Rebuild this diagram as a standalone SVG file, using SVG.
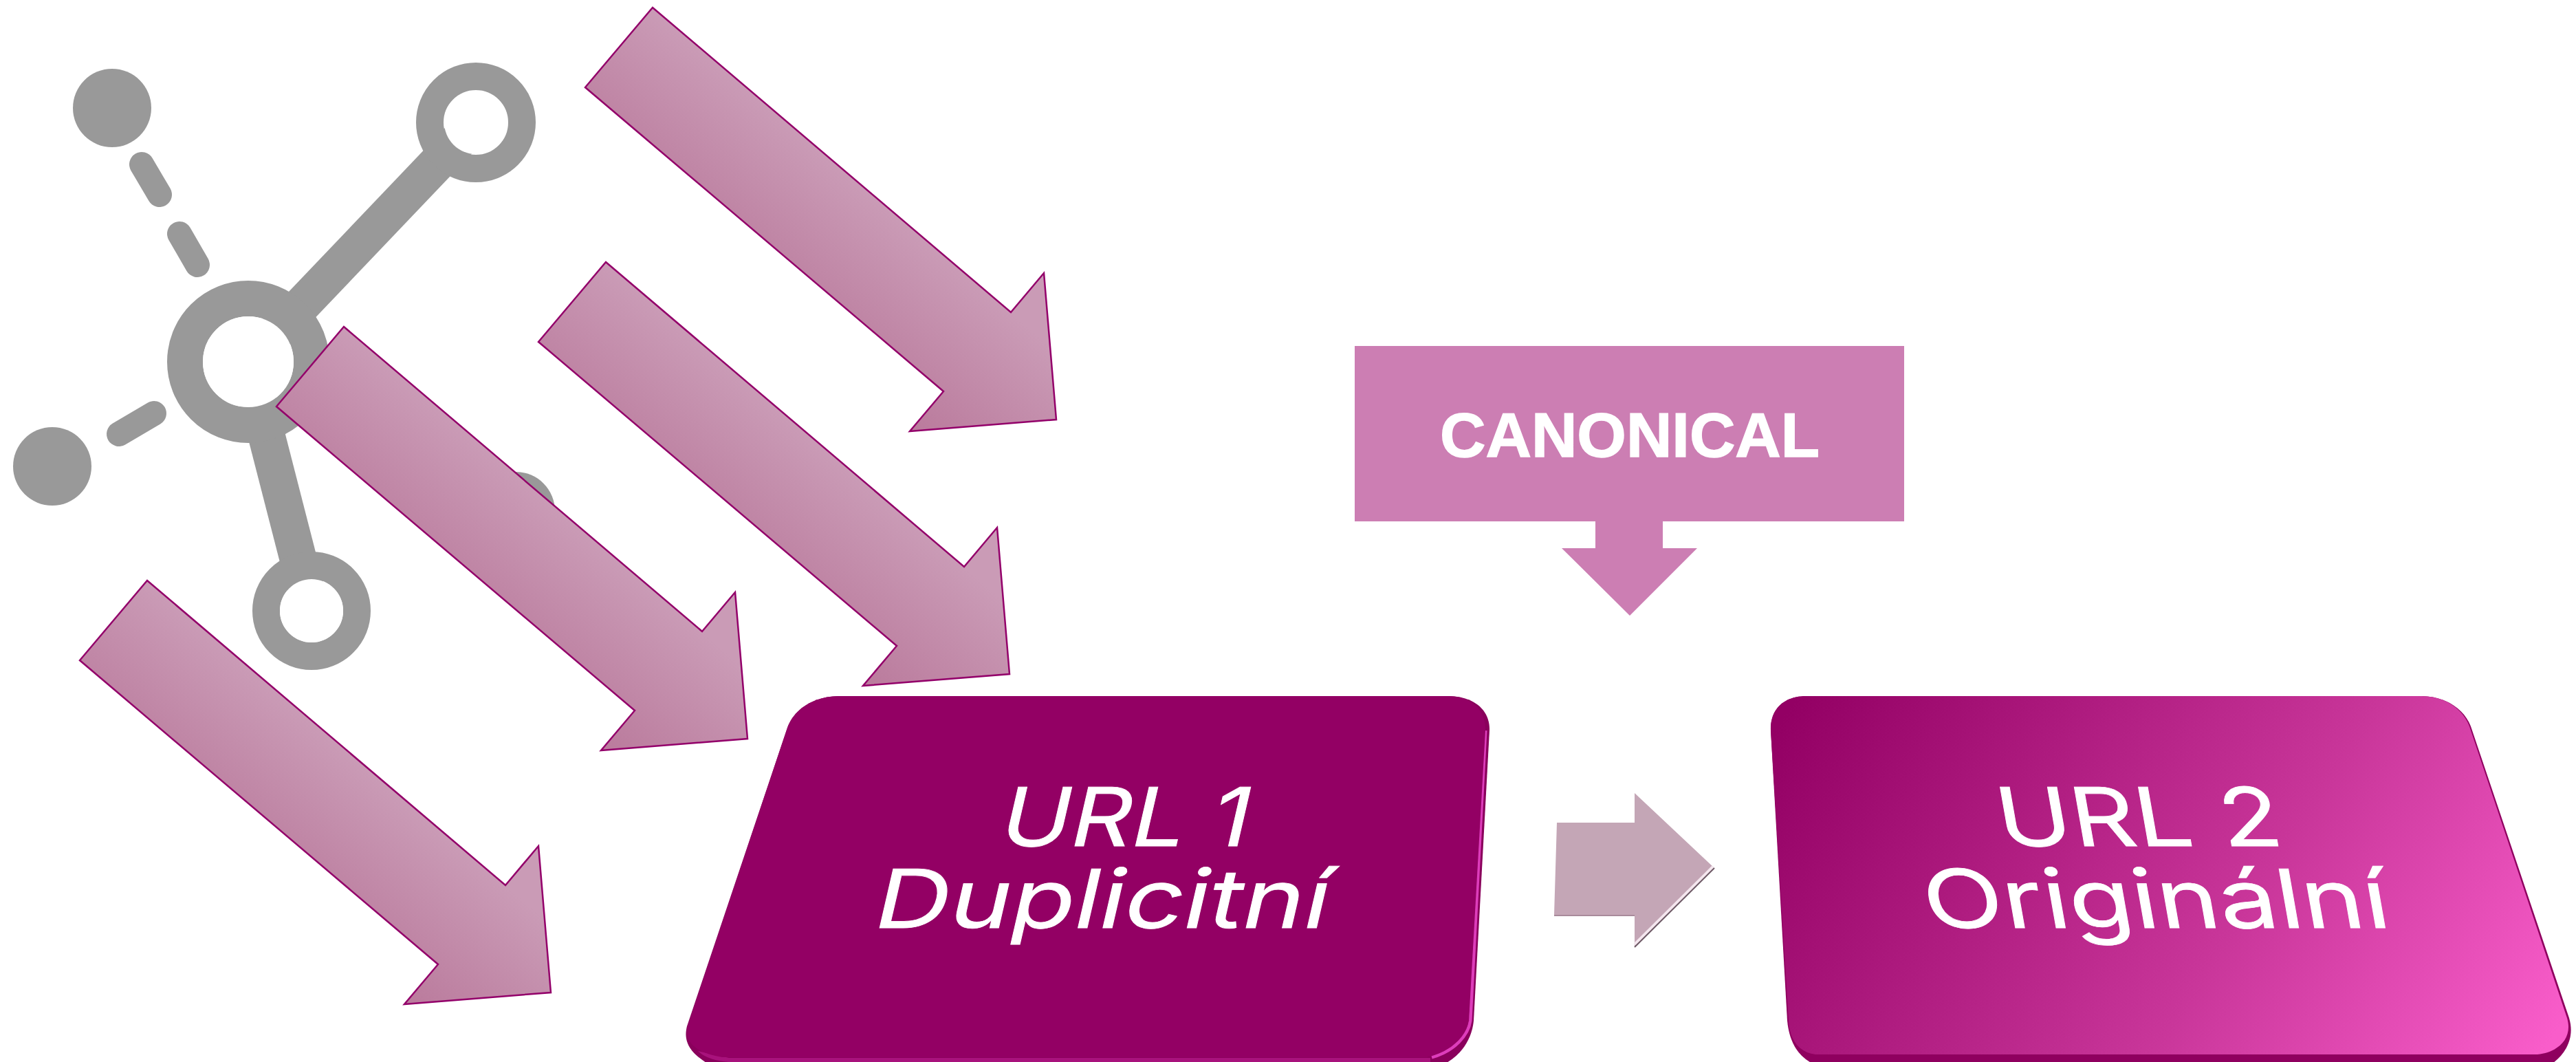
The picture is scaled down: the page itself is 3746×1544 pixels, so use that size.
<svg xmlns="http://www.w3.org/2000/svg" width="3746" height="1544" viewBox="0 0 3746 1544">
<style>
.ic{fill:#999}
.ln{stroke:#999;stroke-width:54;fill:none}
.da{stroke:#999;stroke-width:36;stroke-linecap:round;fill:none}
.ri{fill:none;stroke:#999}
.ar{fill:url(#ag);stroke:#93006a;stroke-width:2.5}
.big{font-family:"Inter","Noto Sans",sans-serif;font-size:118px;fill:#fff;stroke:#fff;stroke-width:.8}
.can{font-family:"Liberation Sans",Arial,sans-serif;font-weight:700;font-size:90px;fill:#fff;stroke:#fff;stroke-width:1.5}
</style>
<defs>
<linearGradient id="ag" gradientUnits="userSpaceOnUse" x1="262" y1="223" x2="115" y2="396"><stop offset="0" stop-color="#ca9bb6"/><stop offset="1" stop-color="#ba7a9c"/></linearGradient>
<linearGradient id="u2" gradientUnits="userSpaceOnUse" x1="2580" y1="1063" x2="3581" y2="1712"><stop offset="0" stop-color="#930064"/><stop offset=".6" stop-color="#c9369a"/><stop offset="1" stop-color="#f95dca"/></linearGradient>
<polygon id="arr" points="0,0 521,443 569,386 587,599 374,616 423,558 -98,116"/>
</defs>
<g id="icon">
<g class="ln"><line x1="360" y1="526" x2="692" y2="178"/><line x1="360" y1="526" x2="453" y2="888"/></g>
<circle class="ri" cx="361" cy="526" r="92" stroke-width="52" fill="#fff"/>
<circle class="ri" cx="692" cy="178" r="67" stroke-width="40"/>
<circle class="ri" cx="453" cy="888" r="66" stroke-width="40"/>
<circle cx="692" cy="178" r="46" fill="#fff"/>
<circle cx="361" cy="526" r="66" fill="#fff"/>
<circle cx="453" cy="888" r="46" fill="#fff"/>
<circle class="ic" cx="163" cy="157" r="57"/>
<circle class="ic" cx="76" cy="678" r="57"/>
<circle class="ic" cx="750" cy="743" r="57"/>
<line class="da" x1="206" y1="239" x2="232" y2="283"/>
<line class="da" x1="261" y1="340" x2="287" y2="385"/>
<line class="da" x1="173" y1="631" x2="224" y2="601"/>
</g>
<g id="arrows">
<use id="arrow-1" class="ar" href="#arr" x="949" y="11"/>
<use id="arrow-2" class="ar" href="#arr" x="881" y="381"/>
<use id="arrow-3" class="ar" href="#arr" x="500" y="475"/>
<use id="arrow-4" class="ar" href="#arr" x="214" y="844"/>
<g id="arrow-mid">
<polygon points="2264,1196 2377,1196 2377,1153 2493,1262 2377,1377 2377,1330 2260,1330" fill="#c4a6b6"/>
<polyline points="2260,1331 2377,1331" fill="none" stroke="#a88a9b" stroke-width="2"/>
<line x1="2491" y1="1260" x2="2377" y2="1373" stroke="#f4e6ee" stroke-width="4"/>
<line x1="2493" y1="1262" x2="2377" y2="1377" stroke="#6e5a66" stroke-width="2"/>
</g>
</g>
<g id="canonical">
<polygon points="1970,503 2769,503 2769,758 2418,758 2418,797 2468,797 2370,895 2271,797 2320,797 2320,758 1970,758" fill="#cc7eb3"/>
<text class="can" x="2094" y="664" textLength="552" lengthAdjust="spacingAndGlyphs">CANONICAL</text>
</g>
<g id="url-1">
<path d="M1220,1012H2107C2140,1012 2167,1030 2166,1062L2143,1484C2140,1515 2120,1540 2093,1550H1035C1010,1535 992,1520 999,1492L1145,1058C1155,1030 1185,1012 1220,1012Z" fill="#8a005c"/>
<path d="M1015,1528C1025,1538 1040,1542 1060,1544H2080V1538H1060Z" fill="#a8127c"/>
<path d="M2160,1062L2138,1484C2135,1505 2115,1528 2082,1537" fill="none" stroke="#dd3dbb" stroke-width="5"/>
<path d="M1220,1012H2107C2136,1012 2161,1030 2160,1062L2136,1484C2132,1508 2108,1530 2075,1537H1050C1020,1532 994,1520 1000,1492L1145,1058C1155,1030 1185,1012 1220,1012Z" fill="#930064"/>
<text class="big" transform="translate(1449,1229.5) skewX(-13)" textLength="362" lengthAdjust="spacingAndGlyphs">URL 1</text>
<text class="big" transform="translate(1266,1348.5) skewX(-13)" textLength="660" lengthAdjust="spacingAndGlyphs">Duplicitní</text>
</g>
<g id="url-2">
<path d="M2627,1012H3521C3555,1012 3583,1030 3593,1056L3736,1480C3745,1510 3730,1535 3706,1550H2645C2615,1540 2602,1515 2599,1484L2575,1062C2574,1030 2595,1012 2627,1012Z" fill="#8f005f"/>
<path d="M2627,1012H3521C3555,1012 3581,1030 3591,1056L3733,1480C3742,1510 3720,1530 3690,1533H2640C2615,1530 2602,1510 2601,1484L2575,1062C2574,1030 2595,1012 2627,1012Z" fill="url(#u2)"/>
<text class="big" transform="translate(2911,1229.5) skewX(10)" textLength="412" lengthAdjust="spacingAndGlyphs">URL 2</text>
<text class="big" transform="translate(2804,1348.5) skewX(10)" textLength="676" lengthAdjust="spacingAndGlyphs">Originální</text>
</g>
</svg>
